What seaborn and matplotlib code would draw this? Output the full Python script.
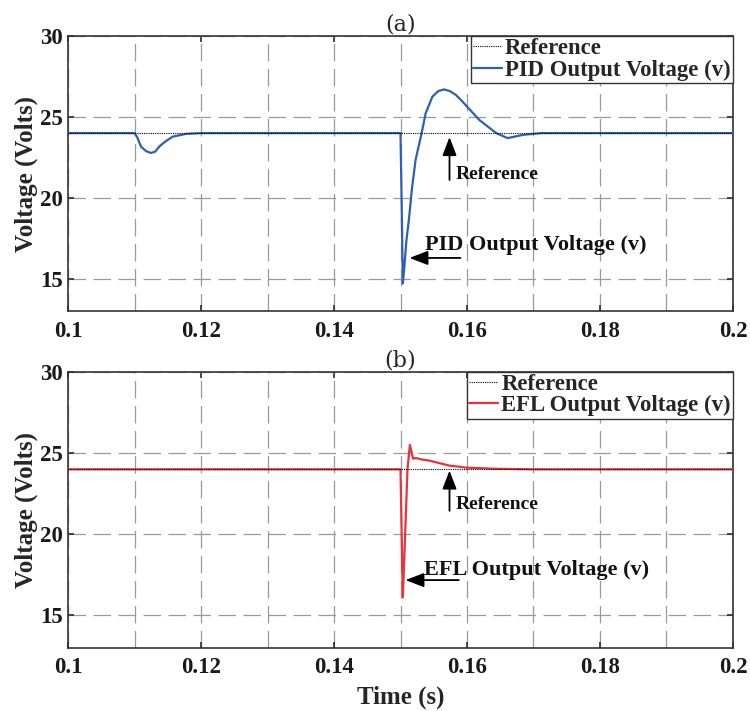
import numpy as np
import pandas as pd
import matplotlib
matplotlib.use("Agg")
import matplotlib.pyplot as plt
from matplotlib.ticker import MultipleLocator, FixedLocator, FixedFormatter
import seaborn as sns

# ---------- data ----------
ref_t = [0.1, 0.2]
ref_v = [24.0, 24.0]

pid_t = [0.1, 0.11, 0.1104, 0.11075, 0.1110, 0.11175, 0.1125, 0.1131, 0.11375,
         0.1147, 0.11575, 0.11775, 0.12, 0.15, 0.1502, 0.15035, 0.15055, 0.1509,
         0.15126, 0.15176, 0.15227, 0.15318, 0.15379, 0.15479, 0.1557, 0.15656,
         0.1574, 0.15833, 0.1592, 0.16, 0.16186, 0.16439, 0.1661, 0.16842, 0.1712, 0.2]
pid_v = [24.0, 24.0, 23.75, 23.39, 23.15, 22.88, 22.77, 22.85, 23.18,
         23.5, 23.78, 23.95, 24.0, 24.0, 19.0, 14.7, 15.6, 17.4,
         18.64, 20.7, 22.35, 24.0, 25.23, 26.25, 26.6, 26.7,
         26.6, 26.36, 26.0, 25.64, 24.81, 24.0, 23.69, 23.89, 24.0, 24.0]

efl_t = [0.1, 0.15, 0.15035, 0.1507, 0.15105, 0.15141, 0.1517, 0.1519, 0.1523,
         0.1530, 0.15429, 0.15732, 0.16, 0.16439, 0.17, 0.2]
efl_v = [24.0, 24.0, 16.1, 20.0, 24.0, 25.5, 25.0, 24.65, 24.7,
         24.62, 24.54, 24.23, 24.1, 24.03, 24.0, 24.0]

x_ticks = [0.1, 0.12, 0.14, 0.16, 0.18, 0.2]
x_labels = ["0.1", "0.12", "0.14", "0.16", "0.18", "0.2"]
y_ticks = [15, 20, 25, 30]

sns.set_theme(style="ticks")
plt.rcParams['font.family'] = ['Liberation Serif', 'DejaVu Serif']
plt.rcParams['font.weight'] = 'bold'

fig = plt.figure(figsize=(7.5, 7.11), dpi=100)
ax_a = fig.add_axes([0.0907, 0.5626, 0.8866, 0.3867])
ax_b = fig.add_axes([0.0907, 0.0890, 0.8866, 0.3878])

spine_col = "#333333"
arrow_style = "-|>,head_length=0.7,head_width=0.27"


def style_axes(ax, title):
    ax.set_xlim(0.1, 0.2)
    ax.set_ylim(13, 30)
    ax.xaxis.set_major_locator(FixedLocator(x_ticks))
    ax.xaxis.set_major_formatter(FixedFormatter(x_labels))
    ax.xaxis.set_minor_locator(MultipleLocator(0.01))
    ax.set_yticks(y_ticks)
    ax.grid(True, which="both", axis="x", color="#9a9a9a", lw=0.9, linestyle=(0, (14, 6)))
    ax.grid(True, which="major", axis="y", color="#9a9a9a", lw=0.9, linestyle=(0, (14, 6)))
    ax.tick_params(which="both", direction="in", top=True, right=True,
                   labelsize=16.5, colors=spine_col, labelcolor="#1a1a1a", length=4)
    ax.tick_params(axis="x", pad=7)
    ax.tick_params(axis="y", pad=4)
    ax.tick_params(which="minor", length=0)
    for lab in ax.get_xticklabels() + ax.get_yticklabels():
        lab.set_fontweight("bold")
    for s in ax.spines.values():
        s.set_color(spine_col)
        s.set_linewidth(1.2)
    ax.set_title(title, fontsize=16, fontweight="normal", pad=4, family="DejaVu Serif")
    ax.set_ylabel("Voltage (Volts)", fontsize=18, fontweight="bold", labelpad=1)
    ax.set_xlabel("")


def add_legend(ax):
    h, l = ax.get_legend_handles_labels()
    ax.legend(h[::-1], l[::-1], loc="upper right", borderaxespad=0, fancybox=False,
              framealpha=1, edgecolor=spine_col, handlelength=1.25,
              handletextpad=0.15, labelspacing=0.0, borderpad=0.1,
              prop={"weight": "bold", "size": 16.4})


def arrow_notes(ax, ref_xy, ref_tail, ref_txt, out_xy, out_tail, out_txt, label):
    ax.annotate("", xy=ref_xy, xytext=ref_tail,
                arrowprops=dict(arrowstyle=arrow_style, color="black", lw=1.3,
                                mutation_scale=16, shrinkA=0, shrinkB=0))
    ax.text(ref_txt[0], ref_txt[1], "Reference", fontsize=14, fontweight="bold",
            va="baseline", ha="left", color="#111111")
    ax.annotate("", xy=out_xy, xytext=out_tail,
                arrowprops=dict(arrowstyle=arrow_style, color="black", lw=1.3,
                                mutation_scale=16, shrinkA=0, shrinkB=0))
    ax.text(out_txt[0], out_txt[1], label, fontsize=16, fontweight="bold",
            va="baseline", ha="left", color="#111111")


df_ref = pd.DataFrame({"t": ref_t, "v": ref_v})
df_pid = pd.DataFrame({"t": pid_t, "v": pid_v})
df_efl = pd.DataFrame({"t": efl_t, "v": efl_v})

# ---------- (a) PID ----------
sns.lineplot(data=df_pid, x="t", y="v", ax=ax_a, color="#2f5fb0", lw=1.6,
             label="PID Output Voltage (v)", zorder=3)
sns.lineplot(data=df_ref, x="t", y="v", ax=ax_a, color="black", lw=0.8,
             linestyle=(0, (1, 1)), label="Reference", zorder=4)
style_axes(ax_a, "(a)")
add_legend(ax_a)
arrow_notes(ax_a, (0.15737, 23.75), (0.15737, 21.1), (0.15827, 21.15),
            (0.15135, 16.28), (0.15902, 16.28), (0.15368, 16.75), "PID Output Voltage (v)")

# ---------- (b) EFL ----------
sns.lineplot(data=df_efl, x="t", y="v", ax=ax_b, color="#e8333b", lw=1.6,
             label="EFL Output Voltage (v)", zorder=3)
sns.lineplot(data=df_ref, x="t", y="v", ax=ax_b, color="black", lw=0.8,
             linestyle=(0, (1, 1)), label="Reference", zorder=4)
style_axes(ax_b, "(b)")
add_legend(ax_b)
arrow_notes(ax_b, (0.15737, 23.92), (0.15737, 21.44), (0.15827, 21.55),
            (0.15075, 17.17), (0.15877, 17.17), (0.15358, 17.5), "EFL Output Voltage (v)")
ax_b.set_xlabel("Time (s)", fontsize=18, fontweight="bold", labelpad=5)

fig.savefig("out.png", dpi=100)
